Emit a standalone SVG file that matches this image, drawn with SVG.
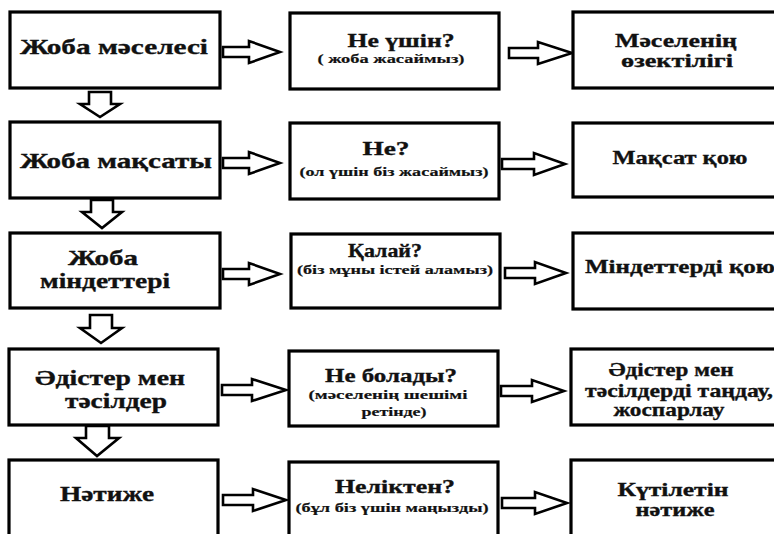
<svg xmlns="http://www.w3.org/2000/svg" width="774" height="534" viewBox="0 0 774 534">
<style>
.box{fill:#fff;stroke:#000;stroke-width:3.2}
.arr{fill:#fff;stroke:#000;stroke-width:2.6;stroke-linejoin:miter}
text{font-family:"Liberation Serif","DejaVu Serif",serif;font-weight:bold;fill:#111;text-anchor:middle;stroke:#111;stroke-width:0.35}
.l{font-size:21px}
.t{font-size:19px}
.s{font-size:13.5px;stroke-width:0.2}
.r{font-size:19px}
</style>
<rect width="774" height="534" fill="#fff"/>
<g id="connectors">
<polygon class="arr" points="223,47 249,47 249,41 280,52 249,63 249,57 223,57"/>
<polygon class="arr" points="223,158 249,158 249,152 280,163 249,174 249,168 223,168"/>
<polygon class="arr" points="223,269 249,269 249,263 280,274 249,285 249,279 223,279"/>
<polygon class="arr" points="222,385 252,385 252,379 286,390 252,401 252,395 222,395"/>
<polygon class="arr" points="223,495 253,495 253,489 286,500 253,511 253,505 223,505"/>
<polygon class="arr" points="509,48 538,48 538,42 572,53 538,64 538,58 509,58"/>
<polygon class="arr" points="502,159 534,159 534,153 565,164 534,175 534,169 502,169"/>
<polygon class="arr" points="505,268 535,268 535,262 566,273 535,284 535,278 505,278"/>
<polygon class="arr" points="501,386 532,386 532,380 564,391 532,402 532,396 501,396"/>
<polygon class="arr" points="502,498 535,498 535,492 567,503 535,514 535,508 502,508"/>
<polygon class="arr" points="89,92 111,92 111,104 120,104 100,117 80,104 89,104"/>
<polygon class="arr" points="91,200 113,200 113,212 122,212 102,228 82,212 91,212"/>
<polygon class="arr" points="90,315 112,315 112,328 122,328 101,343 80,328 90,328"/>
<polygon class="arr" points="86,426 109,426 109,438 119,438 97,456 76,438 86,438"/>
</g>
<g id="n1"><rect class="box" x="10" y="12" width="210" height="76"/><text class="l" x="114" y="54" textLength="188" lengthAdjust="spacingAndGlyphs">Жоба мәселесі</text></g>
<g id="n2"><rect class="box" x="290" y="13" width="209" height="76"/><text class="t" x="401" y="47" textLength="107" lengthAdjust="spacingAndGlyphs">Не үшін?</text><text class="s" x="391" y="63" textLength="147" lengthAdjust="spacingAndGlyphs">( жоба жасаймыз)</text></g>
<g id="n3"><rect class="box" x="573" y="12" width="210" height="76"/><text class="r" x="676" y="47" textLength="122" lengthAdjust="spacingAndGlyphs">Мәселенің</text><text class="r" x="677" y="67" textLength="112" lengthAdjust="spacingAndGlyphs">өзектілігі</text></g>
<g id="n4"><rect class="box" x="10" y="122" width="210" height="76"/><text class="l" x="116" y="168" textLength="192" lengthAdjust="spacingAndGlyphs">Жоба мақсаты</text></g>
<g id="n5"><rect class="box" x="290" y="123" width="209" height="76"/><text class="t" x="386" y="155" textLength="47" lengthAdjust="spacingAndGlyphs">Не?</text><text class="s" x="394" y="176" textLength="189" lengthAdjust="spacingAndGlyphs">(ол үшін біз жасаймыз)</text></g>
<g id="n6"><rect class="box" x="573" y="123" width="210" height="74"/><text class="r" x="680" y="164" textLength="135" lengthAdjust="spacingAndGlyphs">Мақсат қою</text></g>
<g id="n7"><rect class="box" x="10" y="233" width="210" height="75"/><text class="l" x="103" y="265" textLength="70" lengthAdjust="spacingAndGlyphs">Жоба</text><text class="l" x="105" y="288" textLength="130" lengthAdjust="spacingAndGlyphs">міндеттері</text></g>
<g id="n8"><rect class="box" x="291" y="234" width="209" height="74"/><text class="t" x="385" y="257" textLength="74" lengthAdjust="spacingAndGlyphs">Қалай?</text><text class="s" x="395" y="274" textLength="196" lengthAdjust="spacingAndGlyphs">(біз мұны істей аламыз)</text></g>
<g id="n9"><rect class="box" x="573" y="233" width="210" height="76"/><text class="r" x="680" y="273" textLength="190" lengthAdjust="spacingAndGlyphs">Міндеттерді қою</text></g>
<g id="n10"><rect class="box" x="9" y="349" width="209" height="76"/><text class="l" x="110" y="385" textLength="150" lengthAdjust="spacingAndGlyphs">Әдістер мен</text><text class="l" x="116" y="408" textLength="102" lengthAdjust="spacingAndGlyphs">тәсілдер</text></g>
<g id="n11"><rect class="box" x="289" y="351" width="209" height="75"/><text class="t" x="391" y="382" textLength="132" lengthAdjust="spacingAndGlyphs">Не болады?</text><text class="s" x="388" y="399" textLength="159" lengthAdjust="spacingAndGlyphs">(мәселенің шешімі</text><text class="s" x="394" y="416" textLength="65" lengthAdjust="spacingAndGlyphs">ретінде)</text></g>
<g id="n12"><rect class="box" x="571" y="349" width="212" height="76"/><text class="r" x="671" y="376" textLength="125" lengthAdjust="spacingAndGlyphs">Әдістер мен</text><text class="r" x="679" y="397" textLength="188" lengthAdjust="spacingAndGlyphs">тәсілдерді таңдау,</text><text class="r" x="669" y="416" textLength="111" lengthAdjust="spacingAndGlyphs">жоспарлау</text></g>
<g id="n13"><rect class="box" x="9" y="460" width="209" height="80"/><text class="l" x="107" y="501" textLength="94" lengthAdjust="spacingAndGlyphs">Нәтиже</text></g>
<g id="n14"><rect class="box" x="289" y="462" width="209" height="78"/><text class="t" x="395" y="493" textLength="120" lengthAdjust="spacingAndGlyphs">Неліктен?</text><text class="s" x="392" y="512" textLength="193" lengthAdjust="spacingAndGlyphs">(бұл біз үшін маңызды)</text></g>
<g id="n15"><rect class="box" x="571" y="460" width="212" height="80"/><text class="r" x="673" y="496" textLength="111" lengthAdjust="spacingAndGlyphs">Күтілетін</text><text class="r" x="675" y="516" textLength="79" lengthAdjust="spacingAndGlyphs">нәтиже</text></g>
</svg>
